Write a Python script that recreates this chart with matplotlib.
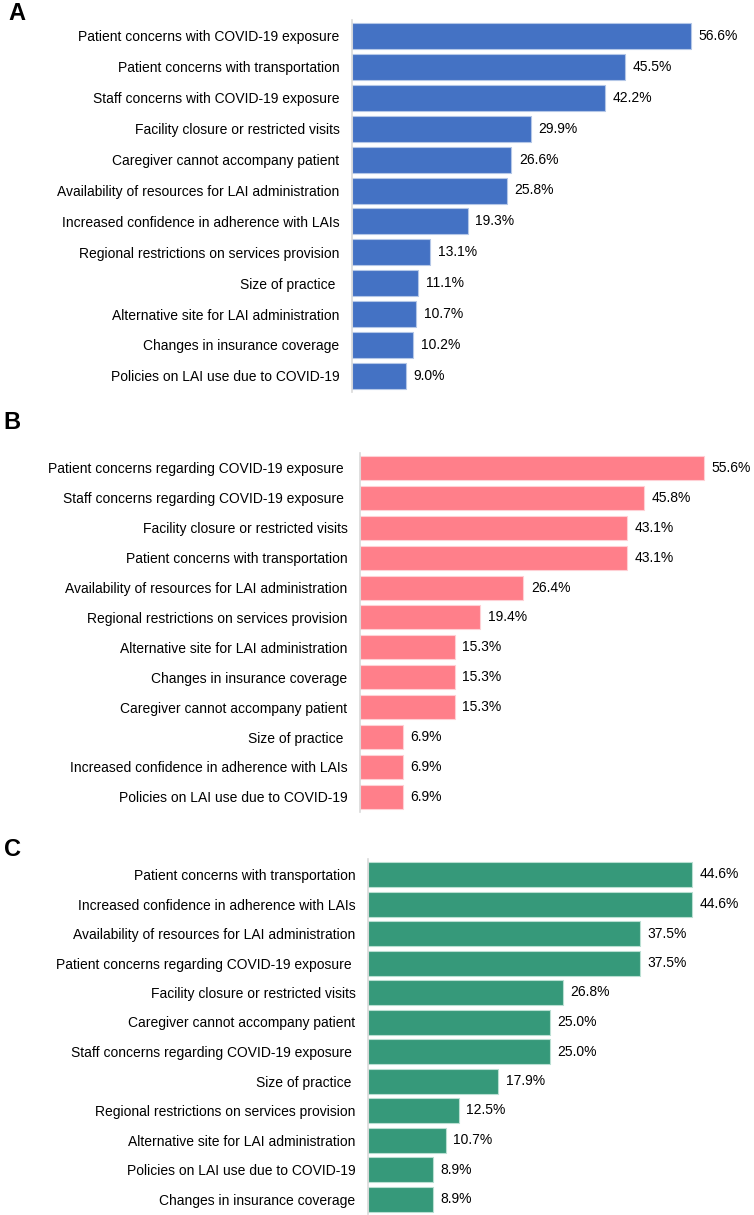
import matplotlib
matplotlib.use("Agg")
import matplotlib.pyplot as plt

plt.rcParams['font.family'] = ['Liberation Sans', 'DejaVu Sans']

# Panel A
labels_a = [
    "Patient concerns with COVID-19 exposure",
    "Patient concerns with transportation",
    "Staff concerns with COVID-19 exposure",
    "Facility closure or restricted visits",
    "Caregiver cannot accompany patient",
    "Availability of resources for LAI administration",
    "Increased confidence in adherence with LAIs",
    "Regional restrictions on services provision",
    "Size of practice ",
    "Alternative site for LAI administration",
    "Changes in insurance coverage",
    "Policies on LAI use due to COVID-19",
]
values_a = [56.6, 45.5, 42.2, 29.9, 26.6, 25.8, 19.3, 13.1, 11.1, 10.7, 10.2, 9.0]

# Panel B
labels_b = [
    "Patient concerns regarding COVID-19 exposure ",
    "Staff concerns regarding COVID-19 exposure ",
    "Facility closure or restricted visits",
    "Patient concerns with transportation",
    "Availability of resources for LAI administration",
    "Regional restrictions on services provision",
    "Alternative site for LAI administration",
    "Changes in insurance coverage",
    "Caregiver cannot accompany patient",
    "Size of practice ",
    "Increased confidence in adherence with LAIs",
    "Policies on LAI use due to COVID-19",
]
values_b = [55.6, 45.8, 43.1, 43.1, 26.4, 19.4, 15.3, 15.3, 15.3, 6.9, 6.9, 6.9]

# Panel C
labels_c = [
    "Patient concerns with transportation",
    "Increased confidence in adherence with LAIs",
    "Availability of resources for LAI administration",
    "Patient concerns regarding COVID-19 exposure ",
    "Facility closure or restricted visits",
    "Caregiver cannot accompany patient",
    "Staff concerns regarding COVID-19 exposure ",
    "Size of practice ",
    "Regional restrictions on services provision",
    "Alternative site for LAI administration",
    "Policies on LAI use due to COVID-19",
    "Changes in insurance coverage",
]
values_c = [44.6, 44.6, 37.5, 37.5, 26.8, 25.0, 25.0, 17.9, 12.5, 10.7, 8.9, 8.9]

W, H = 754, 1215
fig = plt.figure(figsize=(W / 100, H / 100), dpi=100)

# (letter, labels, values, colour, edge, axis x px, px per %, first bar centre y, pitch, bar height px, letter x, letter y)
panels = [
    ("A", labels_a, values_a, "#4472C4", "#B4C7E7", 352, 5.99, 36.0, 30.9, 26, 8, 14),
    ("B", labels_b, values_b, "#FF7F8A", "#FFD0D5", 360, 6.19, 468.0, 29.9, 24, 3, 423),
    ("C", labels_c, values_c, "#36997A", "#B9DFD2", 368, 7.26, 874.5, 29.5, 25, 4, 850),
]

for letter, labels, values, color, edge, x0, scale, y0, pitch, bh, lx, ly in panels:
    n = len(values)
    h = bh / pitch
    ext = 0.1
    top_px = y0 - (h / 2 + ext) * pitch
    bot_px = y0 + (n - 1 + h / 2 + ext) * pitch
    ax = fig.add_axes([x0 / W, 1 - bot_px / H, (W - x0) / W, (bot_px - top_px) / H])
    ax.barh(range(n), values, height=h, color=color, edgecolor=edge, linewidth=0.8)
    ax.set_xlim(0, (W - x0) / scale)
    ax.set_ylim(n - 1 + h / 2 + ext, -h / 2 - ext)
    ax.set_yticks(range(n))
    ax.set_yticklabels(labels, fontsize=10, color="#000000")
    ax.tick_params(axis="y", length=0, pad=9)
    ax.set_xticks([])
    for s in ["top", "right", "bottom"]:
        ax.spines[s].set_visible(False)
    ax.spines["left"].set_color("#D9D9D9")
    ax.spines["left"].set_linewidth(1.2)
    for i, v in enumerate(values):
        ax.annotate(f"{v:.1f}%", (v, i), xytext=(5.5, 0), textcoords="offset points",
                    ha="left", va="center", fontsize=10)
    fig.text(lx / W, 1 - ly / H, letter, fontsize=17, fontweight="bold",
             ha="left", va="center")

fig.savefig("out.png", dpi=100)
